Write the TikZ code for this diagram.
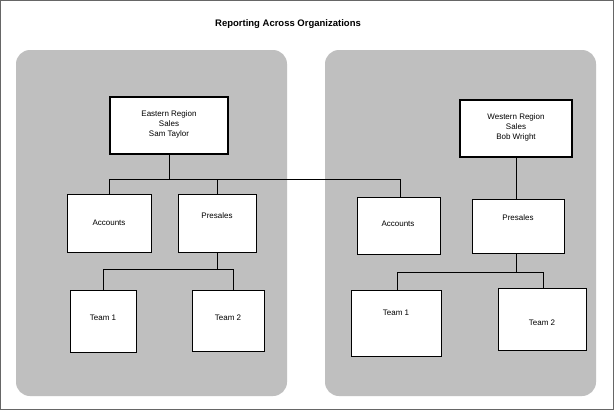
\documentclass[tikz,border=0pt]{standalone}
\usepackage{fontspec}
\setmainfont{Liberation Sans}
\begin{document}
\begin{tikzpicture}[x=1pt,y=-1pt,
  panel/.style={fill=black!25,draw=none,rounded corners=14pt},
  box/.style={draw=black,fill=white,line width=0.6pt},
  lbl/.style={font=\fontsize{8}{10}\selectfont,align=center},
  conn/.style={draw=black,line width=0.7pt}]
\draw[black!60,fill=white] (0.5,0.5) rectangle (613.5,409.5);
\useasboundingbox (0,0) rectangle (614,410);
\node[font=\bfseries\fontsize{9.5}{11}\selectfont] (title) at (288,24) {Reporting Across Organizations};
\fill[panel] (16,50) rectangle (287,396);
\fill[panel] (325,50) rectangle (596,396);
% boxes
\draw[box,line width=1.6pt] (110,97) rectangle (228,154);
\draw[white,line width=0.6pt] (112,99) rectangle (226,152);
\node[lbl] (east) at (169,124) {Eastern Region\\Sales\\Sam Taylor};
\coordinate (eastb) at (169,154);
\draw[box,line width=1.6pt] (460,100) rectangle (572,157);
\draw[white,line width=0.6pt] (462,102) rectangle (570,155);
\node[lbl] (west) at (516,127) {Western Region\\Sales\\Bob Wright};
\coordinate (westb) at (516,157);
\draw[box] (67,194) rectangle (151,252); \node[lbl] (lacc) at (109,223) {Accounts};
\draw[box] (178,194) rectangle (256,252); \node[lbl] (lpre) at (217,216) {Presales};
\draw[box] (70,290) rectangle (136,352); \node[lbl] (lt1) at (103,318) {Team 1};
\draw[box] (192,290) rectangle (264,351); \node[lbl] (lt2) at (228,318) {Team 2};
\draw[box] (357,197) rectangle (440,254); \node[lbl] (racc) at (398,224) {Accounts};
\draw[box] (472,199) rectangle (564,253); \node[lbl] (rpre) at (518,218) {Presales};
\draw[box] (351,290) rectangle (441,356); \node[lbl] (rt1) at (396,313) {Team 1};
\draw[box] (498,288) rectangle (586,350); \node[lbl] (rt2) at (542,323) {Team 2};
% connectors
\coordinate (la) at (109,194); \coordinate (lp) at (217,194); \coordinate (ra) at (400,197);
\draw[conn] (eastb) -- (169,179);
\draw[conn] (la) -- (109,179) -- (400,179) -- (ra);
\draw[conn] (lp) -- (217,179);
\draw[conn] (westb) -- (516,199);
\coordinate (lpb) at (217,252); \coordinate (rpb) at (516,253);
\draw[conn] (lpb) -- (217,269);
\draw[conn] (103,290) -- (103,269) -- (233,269) -- (233,290);
\draw[conn] (rpb) -- (516,272);
\draw[conn] (397,290) -- (397,272) -- (543,272) -- (543,288);
\end{tikzpicture}
\end{document}
